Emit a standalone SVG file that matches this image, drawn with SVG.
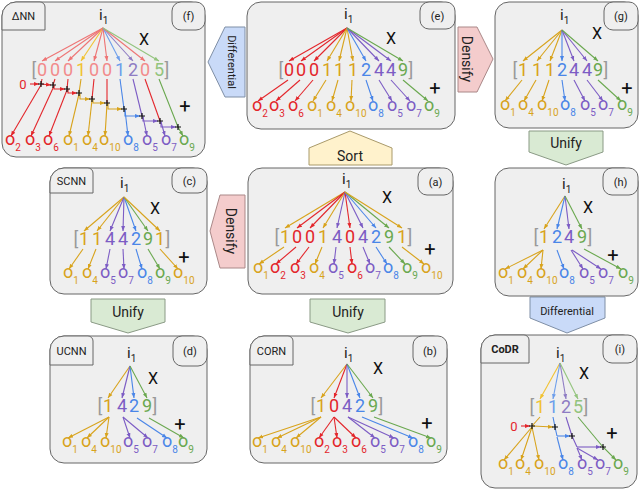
<svg xmlns="http://www.w3.org/2000/svg" width="640" height="490" viewBox="0 0 640 490">
<defs>
<marker id="mR" viewBox="0 0 10 10" refX="10" refY="5" markerWidth="5" markerHeight="5" markerUnits="userSpaceOnUse" orient="auto"><path d="M0,1L10,5L0,9z" fill="#e3262b"/></marker>
<marker id="mY" viewBox="0 0 10 10" refX="10" refY="5" markerWidth="5" markerHeight="5" markerUnits="userSpaceOnUse" orient="auto"><path d="M0,1L10,5L0,9z" fill="#d8a31c"/></marker>
<marker id="mP" viewBox="0 0 10 10" refX="10" refY="5" markerWidth="5" markerHeight="5" markerUnits="userSpaceOnUse" orient="auto"><path d="M0,1L10,5L0,9z" fill="#7c5cc4"/></marker>
<marker id="mB" viewBox="0 0 10 10" refX="10" refY="5" markerWidth="5" markerHeight="5" markerUnits="userSpaceOnUse" orient="auto"><path d="M0,1L10,5L0,9z" fill="#4a86e8"/></marker>
<marker id="mG" viewBox="0 0 10 10" refX="10" refY="5" markerWidth="5" markerHeight="5" markerUnits="userSpaceOnUse" orient="auto"><path d="M0,1L10,5L0,9z" fill="#6aa84f"/></marker>
<marker id="mLR" viewBox="0 0 10 10" refX="10" refY="5" markerWidth="5" markerHeight="5" markerUnits="userSpaceOnUse" orient="auto"><path d="M0,1L10,5L0,9z" fill="#ee7474"/></marker>
<marker id="mLY" viewBox="0 0 10 10" refX="10" refY="5" markerWidth="5" markerHeight="5" markerUnits="userSpaceOnUse" orient="auto"><path d="M0,1L10,5L0,9z" fill="#f1c232"/></marker>
<marker id="mLB" viewBox="0 0 10 10" refX="10" refY="5" markerWidth="5" markerHeight="5" markerUnits="userSpaceOnUse" orient="auto"><path d="M0,1L10,5L0,9z" fill="#6d9eeb"/></marker>
<marker id="mLP" viewBox="0 0 10 10" refX="10" refY="5" markerWidth="5" markerHeight="5" markerUnits="userSpaceOnUse" orient="auto"><path d="M0,1L10,5L0,9z" fill="#8e7cc3"/></marker>
<marker id="mLG" viewBox="0 0 10 10" refX="10" refY="5" markerWidth="5" markerHeight="5" markerUnits="userSpaceOnUse" orient="auto"><path d="M0,1L10,5L0,9z" fill="#93c47d"/></marker>
</defs>
<style>
text{font-family:Roboto,"Liberation Sans",Arial,sans-serif}
.lab{font-size:11px;text-anchor:middle;fill:#222}
.dg{font-size:18px;text-anchor:middle}
.o{font-size:18px}
.s{font-size:10px}
.ii{font-size:15px;fill:#222}
.x{font-size:16px;text-anchor:middle;fill:#111}
.pl{font-size:20px;text-anchor:middle;fill:#111}
.z{font-size:13px;text-anchor:middle;fill:#e3262b}
.k{fill:#999}
.cR{fill:#e3262b}.cY{fill:#d8a31c}.cP{fill:#7c5cc4}.cB{fill:#4a86e8}.cG{fill:#6aa84f}
.cLR{fill:#f28b8b}.cLY{fill:#f1c232}.cLB{fill:#6d9eeb}.cLP{fill:#8e7cc3}.cLG{fill:#93c47d}
line,path.w{fill:none;stroke-width:1.1}
.R{stroke:#e3262b;marker-end:url(#mR)}.Y{stroke:#d8a31c;marker-end:url(#mY)}.P{stroke:#7c5cc4;marker-end:url(#mP)}.B{stroke:#4a86e8;marker-end:url(#mB)}.G{stroke:#6aa84f;marker-end:url(#mG)}
.LR{stroke:#ee7474;marker-end:url(#mLR)}.LY{stroke:#f1c232;marker-end:url(#mLY)}.LB{stroke:#6d9eeb;marker-end:url(#mLB)}.LP{stroke:#8e7cc3;marker-end:url(#mLP)}.LG{stroke:#93c47d;marker-end:url(#mLG)}
.nR{stroke:#e3262b}.nY{stroke:#d8a31c}.nP{stroke:#7c5cc4}.nB{stroke:#4a86e8}
.cross{fill:none;stroke:#111;stroke-width:1.2}
.panel,.tab{fill:#efefef;stroke:#666;stroke-width:1}
.blk text{font-size:14px;text-anchor:middle;fill:#222}
.blk .sm{font-size:11px}
</style>
<rect width="640" height="490" fill="#fff"/>

<g id="connectors" class="blk">
<polygon points="245,27 225,27 208,62 225,97 245,97" fill="#c9daf8" stroke="#7f8fa6"/>
<text class="sm" transform="translate(232,62) rotate(90)" y="4">Differential</text>
<polygon points="458,27 477,27 493,59 477,92 458,92" fill="#f4cccc" stroke="#a88"/>
<text transform="translate(467,59) rotate(90)" y="5">Densify</text>
<polygon points="245,195 220,195 210,231 220,268 245,268" fill="#f4cccc" stroke="#a88"/>
<text transform="translate(231,231) rotate(90)" y="5">Densify</text>
<polygon points="309,165 309,148 350,131 392,148 392,165" fill="#fff2cc" stroke="#a99a6a"/>
<text x="350" y="161">Sort</text>
<polygon points="529,131 603,131 603,152 566,165 529,152" fill="#d9ead3" stroke="#8a9a85"/>
<text x="566" y="148">Unify</text>
<polygon points="91,299 165,299 165,322 128,333 91,322" fill="#d9ead3" stroke="#8a9a85"/>
<text x="128" y="317">Unify</text>
<polygon points="310,299 385,299 385,322 348,333 310,322" fill="#d9ead3" stroke="#8a9a85"/>
<text x="348" y="317">Unify</text>
<polygon points="530,297 605,297 605,318 567,333 530,318" fill="#c9daf8" stroke="#7f8fa6"/>
<text class="sm" x="567" y="315">Differential</text>
</g>

<g id="node-f">
<rect class="panel" x="2" y="2" width="203" height="155" rx="14"/>
<path class="tab" d="M2,30V16A14,14 0 0 1 16,2H40A5,5 0 0 1 45,7V30Z"/>
<text class="lab" x="23.5" y="20">ΔNN</text>
<rect class="tab" x="172" y="2" width="33" height="28" rx="9"/>
<text class="lab" x="188.5" y="20">(f)</text>
<text class="ii" x="99" y="20">i<tspan class="s" dy="4">1</tspan></text>
<text class="x" x="144" y="45">X</text>
<text class="pl" x="185" y="113">+</text>
<line x1="103" y1="28" x2="42" y2="61" class="LR"/><line x1="103" y1="28" x2="55" y2="61" class="LR"/><line x1="103" y1="28" x2="68" y2="61" class="LR"/><line x1="103" y1="28" x2="81" y2="61" class="LY"/><line x1="103" y1="28" x2="94" y2="61" class="LR"/><line x1="103" y1="28" x2="107" y2="61" class="LR"/><line x1="103" y1="28" x2="120" y2="61" class="LB"/><line x1="103" y1="28" x2="133" y2="61" class="LP"/><line x1="103" y1="28" x2="145" y2="61" class="LR"/><line x1="103" y1="28" x2="159" y2="61" class="LG"/>
<text class="dg k" x="34" y="76">[</text><text class="dg cLR" x="42" y="76">0</text><text class="dg cLR" x="55" y="76">0</text><text class="dg cLR" x="68" y="76">0</text><text class="dg cLY" x="81" y="76">1</text><text class="dg cLR" x="94" y="76">0</text><text class="dg cLR" x="107" y="76">0</text><text class="dg cLB" x="120" y="76">1</text><text class="dg cLP" x="133" y="76">2</text><text class="dg cLR" x="145" y="76">0</text><text class="dg cLG" x="159" y="76">5</text><text class="dg k" x="167" y="76">]</text>
<text class="z" x="23" y="89">0</text>
<line x1="30" y1="84" x2="39" y2="84" class="R"/>
<line x1="42" y1="79" x2="41" y2="84" class="nR"/><line x1="55" y1="79" x2="53" y2="85" class="nR"/><line x1="68" y1="79" x2="67" y2="89" class="nR"/><line x1="81" y1="79" x2="79" y2="93" class="nY"/><line x1="94" y1="79" x2="92" y2="99" class="nR"/><line x1="107" y1="79" x2="107" y2="103" class="nR"/><line x1="120" y1="79" x2="124" y2="109" class="nB"/><line x1="133" y1="79" x2="142" y2="116" class="nP"/><line x1="145" y1="79" x2="160" y2="121" class="nR"/>
<path class="w G" d="M159,79L178,127L183,136"/>
<path class="w R" d="M41,84L51,85"/><path class="w R" d="M54,85V89H65"/><path class="w R" d="M68,89V93H77"/><path class="w Y" d="M80,93V99H90"/><path class="w Y" d="M93,99V103H105"/><path class="w Y" d="M108,103V109H122"/><path class="w B" d="M125,109V116H140"/><path class="w P" d="M143,116V121H158"/><path class="w P" d="M161,121V127H176"/>
<line x1="41" y1="85" x2="11" y2="136" class="R"/><line x1="54" y1="86" x2="31" y2="136" class="R"/><line x1="67" y1="90" x2="49" y2="136" class="R"/><line x1="79" y1="94" x2="69" y2="136" class="Y"/><line x1="92" y1="100" x2="88" y2="136" class="Y"/><line x1="107" y1="104" x2="105" y2="136" class="Y"/><line x1="125" y1="110" x2="128" y2="136" class="B"/><line x1="143" y1="117" x2="147" y2="136" class="P"/><line x1="161" y1="122" x2="165" y2="136" class="P"/>
<path class="cross" d="M38,84h6M41,81v6M50,85h6M53,82v6M64,89h6M67,86v6M76,93h6M79,90v6M89,99h6M92,96v6M104,103h6M107,100v6M121,109h6M124,106v6M139,116h6M142,113v6M157,121h6M160,118v6M175,127h6M178,124v6"/>
<text class="o cR" x="5" y="145">o<tspan class="s" dy="6">2</tspan></text><text class="o cR" x="25" y="145">o<tspan class="s" dy="6">3</tspan></text><text class="o cR" x="43" y="145">o<tspan class="s" dy="6">6</tspan></text><text class="o cY" x="63" y="145">o<tspan class="s" dy="6">1</tspan></text><text class="o cY" x="82" y="145">o<tspan class="s" dy="6">4</tspan></text><text class="o cY" x="99" y="145">o<tspan class="s" dy="6">10</tspan></text><text class="o cB" x="123" y="145">o<tspan class="s" dy="6">8</tspan></text><text class="o cP" x="142" y="145">o<tspan class="s" dy="6">5</tspan></text><text class="o cP" x="161" y="145">o<tspan class="s" dy="6">7</tspan></text><text class="o cG" x="179" y="145">o<tspan class="s" dy="6">9</tspan></text>
</g>

<g id="node-e">
<rect class="panel" x="247" y="2" width="208" height="127" rx="14"/>
<rect class="tab" x="420" y="2" width="35" height="27" rx="9"/>
<text class="lab" x="437.5" y="20">(e)</text>
<text class="ii" x="344" y="19">i<tspan class="s" dy="4">1</tspan></text>
<text class="x" x="391" y="44">X</text>
<text class="pl" x="435" y="95">+</text>
<line x1="347" y1="28" x2="289" y2="61" class="R"/><line x1="347" y1="28" x2="301" y2="61" class="R"/><line x1="347" y1="28" x2="314" y2="61" class="R"/><line x1="347" y1="28" x2="327" y2="61" class="Y"/><line x1="347" y1="28" x2="339" y2="61" class="Y"/><line x1="347" y1="28" x2="353" y2="61" class="Y"/><line x1="347" y1="28" x2="366" y2="61" class="B"/><line x1="347" y1="28" x2="379" y2="61" class="P"/><line x1="347" y1="28" x2="391" y2="61" class="P"/><line x1="347" y1="28" x2="403" y2="61" class="G"/>
<text class="dg k" x="281" y="76">[</text><text class="dg cR" x="289" y="76">0</text><text class="dg cR" x="301" y="76">0</text><text class="dg cR" x="314" y="76">0</text><text class="dg cY" x="327" y="76">1</text><text class="dg cY" x="339" y="76">1</text><text class="dg cY" x="353" y="76">1</text><text class="dg cB" x="366" y="76">2</text><text class="dg cP" x="379" y="76">4</text><text class="dg cP" x="391" y="76">4</text><text class="dg cG" x="403" y="76">9</text><text class="dg k" x="411" y="76">]</text>
<line x1="288" y1="80" x2="258" y2="101" class="R"/><line x1="300" y1="80" x2="276" y2="101" class="R"/><line x1="313" y1="80" x2="295" y2="101" class="R"/><line x1="326" y1="80" x2="313" y2="101" class="Y"/><line x1="338" y1="80" x2="332" y2="101" class="Y"/><line x1="352" y1="80" x2="351" y2="101" class="Y"/><line x1="366" y1="80" x2="373" y2="101" class="B"/><line x1="379" y1="80" x2="392" y2="101" class="P"/><line x1="391" y1="80" x2="410" y2="101" class="P"/><line x1="403" y1="80" x2="428" y2="101" class="G"/>
<text class="o cR" x="252" y="111">o<tspan class="s" dy="6">2</tspan></text><text class="o cR" x="269" y="111">o<tspan class="s" dy="6">3</tspan></text><text class="o cR" x="288" y="111">o<tspan class="s" dy="6">6</tspan></text><text class="o cY" x="307" y="111">o<tspan class="s" dy="6">1</tspan></text><text class="o cY" x="326" y="111">o<tspan class="s" dy="6">4</tspan></text><text class="o cY" x="345" y="111">o<tspan class="s" dy="6">10</tspan></text><text class="o cB" x="368" y="111">o<tspan class="s" dy="6">8</tspan></text><text class="o cP" x="387" y="111">o<tspan class="s" dy="6">5</tspan></text><text class="o cP" x="406" y="111">o<tspan class="s" dy="6">7</tspan></text><text class="o cG" x="424" y="111">o<tspan class="s" dy="6">9</tspan></text>
</g>

<g id="node-g">
<rect class="panel" x="495" y="2" width="143" height="126" rx="14"/>
<rect class="tab" x="604" y="2" width="34" height="28" rx="9"/>
<text class="lab" x="621" y="20">(g)</text>
<text class="ii" x="560" y="20">i<tspan class="s" dy="4">1</tspan></text>
<text class="x" x="597" y="39">X</text>
<text class="pl" x="627" y="95">+</text>
<line x1="562" y1="30" x2="523" y2="61" class="Y"/><line x1="562" y1="30" x2="537" y2="61" class="Y"/><line x1="562" y1="30" x2="550" y2="61" class="Y"/><line x1="562" y1="30" x2="562" y2="61" class="B"/><line x1="562" y1="30" x2="574" y2="61" class="P"/><line x1="562" y1="30" x2="587" y2="61" class="P"/><line x1="562" y1="30" x2="598" y2="61" class="G"/>
<text class="dg k" x="515" y="76">[</text><text class="dg cY" x="523" y="76">1</text><text class="dg cY" x="537" y="76">1</text><text class="dg cY" x="550" y="76">1</text><text class="dg cB" x="562" y="76">2</text><text class="dg cP" x="574" y="76">4</text><text class="dg cP" x="587" y="76">4</text><text class="dg cG" x="598" y="76">9</text><text class="dg k" x="606" y="76">]</text>
<line x1="522" y1="80" x2="505" y2="101" class="Y"/><line x1="536" y1="80" x2="524" y2="101" class="Y"/><line x1="549" y1="80" x2="542" y2="101" class="Y"/><line x1="562" y1="80" x2="565" y2="101" class="B"/><line x1="574" y1="80" x2="585" y2="101" class="P"/><line x1="587" y1="80" x2="603" y2="101" class="P"/><line x1="598" y1="80" x2="621" y2="101" class="G"/>
<text class="o cY" x="500" y="110">o<tspan class="s" dy="6">1</tspan></text><text class="o cY" x="518" y="110">o<tspan class="s" dy="6">4</tspan></text><text class="o cY" x="537" y="110">o<tspan class="s" dy="6">10</tspan></text><text class="o cB" x="560" y="110">o<tspan class="s" dy="6">8</tspan></text><text class="o cP" x="580" y="110">o<tspan class="s" dy="6">5</tspan></text><text class="o cP" x="598" y="110">o<tspan class="s" dy="6">7</tspan></text><text class="o cG" x="617" y="110">o<tspan class="s" dy="6">9</tspan></text>
</g>

<g id="node-c">
<rect class="panel" x="50" y="168" width="157" height="126" rx="14"/>
<path class="tab" d="M50,193V182A14,14 0 0 1 64,168H88A5,5 0 0 1 93,173V193Z"/>
<text class="lab" x="71.5" y="185">SCNN</text>
<rect class="tab" x="172" y="168" width="35" height="25" rx="9"/>
<text class="lab" x="189.5" y="185">(c)</text>
<text class="ii" x="120" y="188">i<tspan class="s" dy="4">1</tspan></text>
<text class="x" x="155" y="214">X</text>
<text class="pl" x="184" y="264">+</text>
<line x1="124" y1="197" x2="84" y2="231" class="Y"/><line x1="124" y1="197" x2="97" y2="231" class="Y"/><line x1="124" y1="197" x2="110" y2="231" class="P"/><line x1="124" y1="197" x2="123" y2="231" class="P"/><line x1="124" y1="197" x2="136" y2="231" class="B"/><line x1="124" y1="197" x2="148" y2="231" class="G"/><line x1="124" y1="197" x2="160" y2="231" class="Y"/>
<text class="dg k" x="76" y="245">[</text><text class="dg cY" x="84" y="245">1</text><text class="dg cY" x="97" y="245">1</text><text class="dg cP" x="110" y="245">4</text><text class="dg cP" x="123" y="245">4</text><text class="dg cB" x="136" y="245">2</text><text class="dg cG" x="148" y="245">9</text><text class="dg cY" x="160" y="245">1</text><text class="dg k" x="168" y="245">]</text>
<line x1="83" y1="249" x2="69" y2="269" class="Y"/><line x1="96" y1="249" x2="88" y2="269" class="Y"/><line x1="110" y1="249" x2="106" y2="269" class="P"/><line x1="123" y1="249" x2="124" y2="269" class="P"/><line x1="136" y1="249" x2="142" y2="269" class="B"/><line x1="148" y1="249" x2="160" y2="269" class="G"/><line x1="160" y1="249" x2="178" y2="269" class="Y"/>
<text class="o cY" x="63" y="278">o<tspan class="s" dy="6">1</tspan></text><text class="o cY" x="82" y="278">o<tspan class="s" dy="6">4</tspan></text><text class="o cP" x="100" y="278">o<tspan class="s" dy="6">5</tspan></text><text class="o cP" x="118" y="278">o<tspan class="s" dy="6">7</tspan></text><text class="o cB" x="137" y="278">o<tspan class="s" dy="6">8</tspan></text><text class="o cG" x="155" y="278">o<tspan class="s" dy="6">9</tspan></text><text class="o cY" x="173" y="278">o<tspan class="s" dy="6">10</tspan></text>
</g>

<g id="node-a">
<rect class="panel" x="248" y="168" width="205" height="126" rx="14"/>
<rect class="tab" x="418" y="168" width="35" height="27" rx="9"/>
<text class="lab" x="435.5" y="186">(a)</text>
<text class="ii" x="342" y="184">i<tspan class="s" dy="4">1</tspan></text>
<text class="x" x="387" y="203">X</text>
<text class="pl" x="430" y="256">+</text>
<line x1="345" y1="192" x2="285" y2="228" class="Y"/><line x1="345" y1="192" x2="297" y2="228" class="R"/><line x1="345" y1="192" x2="310" y2="228" class="R"/><line x1="345" y1="192" x2="323" y2="228" class="Y"/><line x1="345" y1="192" x2="337" y2="228" class="P"/><line x1="345" y1="192" x2="350" y2="228" class="R"/><line x1="345" y1="192" x2="363" y2="228" class="P"/><line x1="345" y1="192" x2="376" y2="228" class="B"/><line x1="345" y1="192" x2="389" y2="228" class="G"/><line x1="345" y1="192" x2="402" y2="228" class="Y"/>
<text class="dg k" x="277" y="243">[</text><text class="dg cY" x="285" y="243">1</text><text class="dg cR" x="297" y="243">0</text><text class="dg cR" x="310" y="243">0</text><text class="dg cY" x="323" y="243">1</text><text class="dg cP" x="337" y="243">4</text><text class="dg cR" x="350" y="243">0</text><text class="dg cP" x="363" y="243">4</text><text class="dg cB" x="376" y="243">2</text><text class="dg cG" x="389" y="243">9</text><text class="dg cY" x="402" y="243">1</text><text class="dg k" x="410" y="243">]</text>
<line x1="284" y1="247" x2="259" y2="264" class="Y"/><line x1="296" y1="247" x2="276" y2="264" class="R"/><line x1="309" y1="247" x2="296" y2="264" class="R"/><line x1="322" y1="247" x2="315" y2="264" class="Y"/><line x1="336" y1="247" x2="334" y2="264" class="P"/><line x1="350" y1="247" x2="352" y2="264" class="R"/><line x1="363" y1="247" x2="370" y2="264" class="P"/><line x1="376" y1="247" x2="387" y2="264" class="B"/><line x1="389" y1="247" x2="405" y2="264" class="G"/><line x1="402" y1="247" x2="424" y2="264" class="Y"/>
<text class="o cY" x="253" y="273">o<tspan class="s" dy="6">1</tspan></text><text class="o cR" x="270" y="273">o<tspan class="s" dy="6">2</tspan></text><text class="o cR" x="290" y="273">o<tspan class="s" dy="6">3</tspan></text><text class="o cY" x="309" y="273">o<tspan class="s" dy="6">4</tspan></text><text class="o cP" x="328" y="273">o<tspan class="s" dy="6">5</tspan></text><text class="o cR" x="347" y="273">o<tspan class="s" dy="6">6</tspan></text><text class="o cP" x="365" y="273">o<tspan class="s" dy="6">7</tspan></text><text class="o cB" x="383" y="273">o<tspan class="s" dy="6">8</tspan></text><text class="o cG" x="402" y="273">o<tspan class="s" dy="6">9</tspan></text><text class="o cY" x="421" y="273">o<tspan class="s" dy="6">10</tspan></text>
</g>

<g id="node-h">
<rect class="panel" x="495" y="168" width="143" height="128" rx="14"/>
<rect class="tab" x="603" y="168" width="35" height="27" rx="9"/>
<text class="lab" x="620.5" y="186">(h)</text>
<text class="ii" x="562" y="189">i<tspan class="s" dy="4">1</tspan></text>
<text class="x" x="588" y="213">X</text>
<text class="pl" x="613" y="262">+</text>
<line x1="565" y1="196" x2="544" y2="229" class="Y"/><line x1="565" y1="196" x2="557" y2="229" class="B"/><line x1="565" y1="196" x2="569" y2="229" class="P"/><line x1="565" y1="196" x2="582" y2="229" class="G"/>
<text class="dg k" x="536" y="243">[</text><text class="dg cY" x="544" y="243">1</text><text class="dg cB" x="557" y="243">2</text><text class="dg cP" x="569" y="243">4</text><text class="dg cG" x="582" y="243">9</text><text class="dg k" x="590" y="243">]</text>
<line x1="543" y1="250" x2="505" y2="269" class="Y"/><line x1="543" y1="250" x2="523" y2="269" class="Y"/><line x1="543" y1="250" x2="541" y2="269" class="Y"/><line x1="557" y1="250" x2="564" y2="269" class="B"/><line x1="571" y1="250" x2="583" y2="269" class="P"/><line x1="572" y1="250" x2="601" y2="269" class="P"/><line x1="584" y1="249" x2="621" y2="269" class="G"/>
<text class="o cY" x="498" y="278">o<tspan class="s" dy="6">1</tspan></text><text class="o cY" x="517" y="278">o<tspan class="s" dy="6">4</tspan></text><text class="o cY" x="536" y="278">o<tspan class="s" dy="6">10</tspan></text><text class="o cB" x="559" y="278">o<tspan class="s" dy="6">8</tspan></text><text class="o cP" x="579" y="278">o<tspan class="s" dy="6">5</tspan></text><text class="o cP" x="598" y="278">o<tspan class="s" dy="6">7</tspan></text><text class="o cG" x="618" y="278">o<tspan class="s" dy="6">9</tspan></text>
</g>

<g id="node-d">
<rect class="panel" x="50" y="336" width="157" height="127" rx="14"/>
<path class="tab" d="M50,365V350A14,14 0 0 1 64,336H88A5,5 0 0 1 93,341V365Z"/>
<text class="lab" x="71.5" y="355">UCNN</text>
<rect class="tab" x="173" y="336" width="34" height="30" rx="9"/>
<text class="lab" x="190" y="355">(d)</text>
<text class="ii" x="127" y="358">i<tspan class="s" dy="4">1</tspan></text>
<text class="x" x="153" y="384">X</text>
<text class="pl" x="180" y="431">+</text>
<line x1="130" y1="366" x2="108" y2="398" class="Y"/><line x1="130" y1="366" x2="122" y2="398" class="P"/><line x1="130" y1="366" x2="134" y2="398" class="B"/><line x1="130" y1="366" x2="147" y2="398" class="G"/>
<text class="dg k" x="100" y="412">[</text><text class="dg cY" x="108" y="412">1</text><text class="dg cP" x="122" y="412">4</text><text class="dg cB" x="134" y="412">2</text><text class="dg cG" x="147" y="412">9</text><text class="dg k" x="155" y="412">]</text>
<line x1="109" y1="417" x2="68" y2="438" class="Y"/><line x1="109" y1="417" x2="87" y2="438" class="Y"/><line x1="109" y1="417" x2="106" y2="438" class="Y"/><line x1="123" y1="417" x2="130" y2="438" class="P"/><line x1="123" y1="417" x2="148" y2="438" class="P"/><line x1="137" y1="418" x2="167" y2="438" class="B"/><line x1="149" y1="418" x2="184" y2="438" class="G"/>
<text class="o cY" x="62" y="447">o<tspan class="s" dy="6">1</tspan></text><text class="o cY" x="81" y="447">o<tspan class="s" dy="6">4</tspan></text><text class="o cY" x="100" y="447">o<tspan class="s" dy="6">10</tspan></text><text class="o cP" x="123" y="447">o<tspan class="s" dy="6">5</tspan></text><text class="o cP" x="142" y="447">o<tspan class="s" dy="6">7</tspan></text><text class="o cB" x="162" y="447">o<tspan class="s" dy="6">8</tspan></text><text class="o cG" x="178" y="447">o<tspan class="s" dy="6">9</tspan></text>
</g>

<g id="node-b">
<rect class="panel" x="250" y="336" width="197" height="127" rx="14"/>
<path class="tab" d="M250,365V350A14,14 0 0 1 264,336H288A5,5 0 0 1 293,341V365Z"/>
<text class="lab" x="271.5" y="355">CORN</text>
<rect class="tab" x="413" y="336" width="34" height="30" rx="9"/>
<text class="lab" x="430" y="355">(b)</text>
<text class="ii" x="344" y="358">i<tspan class="s" dy="4">1</tspan></text>
<text class="x" x="378" y="374">X</text>
<text class="pl" x="427" y="430">+</text>
<line x1="347" y1="364" x2="321" y2="398" class="Y"/><line x1="347" y1="364" x2="334" y2="398" class="R"/><line x1="347" y1="364" x2="347" y2="398" class="P"/><line x1="347" y1="364" x2="360" y2="398" class="B"/><line x1="347" y1="364" x2="373" y2="398" class="G"/>
<text class="dg k" x="313" y="412">[</text><text class="dg cY" x="321" y="412">1</text><text class="dg cR" x="334" y="412">0</text><text class="dg cP" x="347" y="412">4</text><text class="dg cB" x="360" y="412">2</text><text class="dg cG" x="373" y="412">9</text><text class="dg k" x="381" y="412">]</text>
<line x1="321" y1="417" x2="258" y2="438" class="Y"/><line x1="321" y1="417" x2="277" y2="438" class="Y"/><line x1="321" y1="417" x2="296" y2="438" class="Y"/><line x1="334" y1="417" x2="319" y2="438" class="R"/><line x1="334" y1="417" x2="337" y2="438" class="R"/><line x1="334" y1="417" x2="356" y2="438" class="R"/><line x1="348" y1="417" x2="375" y2="438" class="P"/><line x1="348" y1="417" x2="394" y2="438" class="P"/><line x1="362" y1="417" x2="413" y2="438" class="B"/><line x1="374" y1="417" x2="431" y2="438" class="G"/>
<text class="o cY" x="252" y="447">o<tspan class="s" dy="6">1</tspan></text><text class="o cY" x="271" y="447">o<tspan class="s" dy="6">4</tspan></text><text class="o cY" x="290" y="447">o<tspan class="s" dy="6">10</tspan></text><text class="o cR" x="314" y="447">o<tspan class="s" dy="6">2</tspan></text><text class="o cR" x="332" y="447">o<tspan class="s" dy="6">3</tspan></text><text class="o cR" x="351" y="447">o<tspan class="s" dy="6">6</tspan></text><text class="o cP" x="370" y="447">o<tspan class="s" dy="6">5</tspan></text><text class="o cP" x="389" y="447">o<tspan class="s" dy="6">7</tspan></text><text class="o cB" x="408" y="447">o<tspan class="s" dy="6">8</tspan></text><text class="o cG" x="426" y="447">o<tspan class="s" dy="6">9</tspan></text>
</g>

<g id="node-i">
<rect class="panel" x="481" y="335" width="156" height="153" rx="14"/>
<path class="tab" d="M481,363V349A14,14 0 0 1 495,335H524A5,5 0 0 1 529,340V363Z"/>
<text class="lab" x="505" y="353" font-weight="bold">CoDR</text>
<rect class="tab" x="603" y="335" width="34" height="28" rx="9"/>
<text class="lab" x="620" y="353">(i)</text>
<text class="ii" x="556" y="358">i<tspan class="s" dy="4">1</tspan></text>
<text class="x" x="584" y="379">X</text>
<text class="pl" x="612" y="440">+</text>
<line x1="560" y1="363" x2="540" y2="399" class="LY"/><line x1="560" y1="363" x2="553" y2="399" class="LB"/><line x1="560" y1="363" x2="566" y2="399" class="LP"/><line x1="560" y1="363" x2="578" y2="399" class="LG"/>
<text class="dg k" x="532" y="413">[</text><text class="dg cLY" x="540" y="413">1</text><text class="dg cLB" x="553" y="413">1</text><text class="dg cLP" x="566" y="413">2</text><text class="dg cLG" x="578" y="413">5</text><text class="dg k" x="586" y="413">]</text>
<text class="z" x="514" y="431">0</text>
<line x1="521" y1="426" x2="530" y2="426" class="R"/>
<line x1="540" y1="417" x2="532" y2="426" class="nY"/>
<path class="w Y" d="M533,426L553,427"/>
<path class="w nB" d="M553,417L555,427L557,436"/>
<path class="w B" d="M557,436H570"/>
<path class="w nP" d="M566,417L572,436L577,447"/>
<path class="w P" d="M577,447H601"/>
<path class="w G" d="M578,417L603,447L616,460"/>
<line x1="532" y1="427" x2="504" y2="460" class="Y"/><line x1="532" y1="427" x2="521" y2="460" class="Y"/><line x1="532" y1="427" x2="539" y2="460" class="Y"/>
<line x1="557" y1="437" x2="563" y2="460" class="B"/>
<line x1="577" y1="448" x2="582" y2="460" class="P"/><line x1="577" y1="448" x2="598" y2="460" class="P"/>
<path class="cross" d="M529,426h6M532,423v6M552,427h6M555,424v6M569,436h6M572,433v6M600,447h6M603,444v6"/>
<text class="o cY" x="498" y="469">o<tspan class="s" dy="6">1</tspan></text><text class="o cY" x="515" y="469">o<tspan class="s" dy="6">4</tspan></text><text class="o cY" x="534" y="469">o<tspan class="s" dy="6">10</tspan></text><text class="o cB" x="558" y="469">o<tspan class="s" dy="6">8</tspan></text><text class="o cP" x="577" y="469">o<tspan class="s" dy="6">5</tspan></text><text class="o cP" x="595" y="469">o<tspan class="s" dy="6">7</tspan></text><text class="o cG" x="613" y="469">o<tspan class="s" dy="6">9</tspan></text>
</g>
</svg>
